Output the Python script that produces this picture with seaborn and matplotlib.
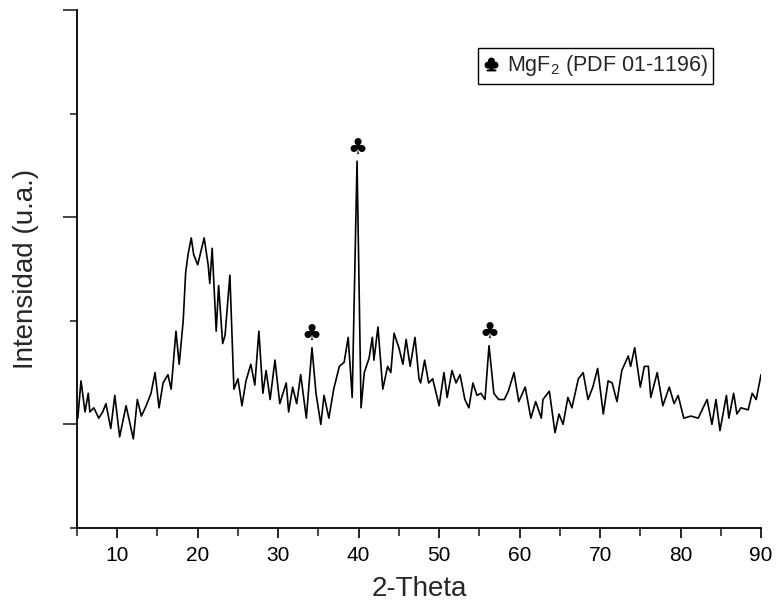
import matplotlib
matplotlib.use("Agg")
import matplotlib.pyplot as plt
from matplotlib.lines import Line2D
from matplotlib.ticker import MultipleLocator, NullFormatter
import seaborn as sns
import pandas as pd

# ---- data ----
two_theta = [5.1, 5.5, 6.0, 6.4, 6.6, 7.1, 7.7, 8.2, 8.6, 9.2, 9.7, 10.3, 11.1, 12.0,
             12.5, 13.0, 13.6, 14.2, 14.7, 15.2, 15.7, 16.3, 16.7, 17.3, 17.7, 18.2,
             18.5, 18.8, 19.2, 19.5, 20.0, 20.8, 21.3, 21.5, 21.8, 22.3, 22.6, 23.1,
             23.4, 24.0, 24.5, 25.0, 25.5, 26.0, 26.6, 27.1, 27.6, 28.1, 28.5, 29.0,
             29.6, 30.2, 31.0, 31.3, 31.8, 32.3, 32.8, 33.5, 34.2, 34.7, 35.3, 35.7,
             36.3, 36.9, 37.6, 38.2, 38.7, 39.2, 39.8, 40.3, 40.7, 41.3, 41.7, 41.9,
             42.4, 43.0, 43.6, 44.0, 44.4, 45.0, 45.5, 45.9, 46.4, 47.0, 47.5, 47.7,
             48.2, 48.7, 49.2, 50.0, 50.6, 51.0, 51.6, 52.1, 52.6, 53.2, 53.7, 54.2,
             54.7, 55.2, 55.7, 56.2, 56.8, 57.4, 58.1, 58.6, 59.3, 59.9, 60.7, 61.4,
             62.0, 62.7, 62.9, 63.7, 64.4, 64.9, 65.4, 66.0, 66.5, 67.3, 67.9, 68.5,
             69.1, 69.7, 70.4, 71.0, 71.5, 72.1, 72.7, 73.5, 73.8, 74.3, 75.0, 75.5,
             76.0, 76.3, 77.1, 77.8, 78.6, 79.2, 79.7, 80.4, 81.3, 82.2, 82.8, 83.3,
             83.9, 84.4, 84.9, 85.7, 86.0, 86.6, 87.0, 87.5, 88.4, 88.9, 89.4, 90.0]
intensity = [103, 121, 106, 115, 106, 108, 103, 106, 110, 98, 114, 94, 109, 93,
             112, 104, 109, 115, 125, 108, 120, 124, 117, 145, 129, 150,
             173, 182, 190, 182, 177, 190, 177, 168, 185, 145, 167, 139,
             143, 172, 117, 122, 109, 121, 129, 119, 145, 115, 126, 112,
             131, 110, 120, 106, 118, 110, 124, 103, 137, 115, 100, 114,
             103, 117, 128, 130, 142, 113, 227, 108, 125, 132, 142, 131,
             147, 117, 128, 125, 144, 137, 129, 141, 128, 142, 122, 120,
             131, 120, 122, 109, 125, 113, 126, 120, 124, 112, 108, 120,
             114, 115, 112, 138, 115, 112, 112, 116, 125, 111, 118, 103,
             111, 103, 112, 116, 96, 105, 100, 113, 108, 122, 125, 112,
             118, 127, 105, 121, 120, 111, 126, 133, 128, 137, 118, 128,
             128, 113, 125, 109, 118, 110, 114, 103, 104, 103, 108, 112,
             100, 112, 97, 114, 103, 115, 105, 108, 107, 115, 112, 124]

peak_theta = [34.2, 39.8, 56.2]
peak_intensity = [137, 227, 138]

x_ticks = [10, 20, 30, 40, 50, 60, 70, 80, 90]
x_label = "2-Theta"
y_label = "Intensidad (u.a.)"
legend_label = r"MgF$_\mathregular{2}$ (PDF 01-1196)"
marker_char = "\u2663"

df = pd.DataFrame({"two_theta": two_theta, "intensity": intensity})

# ---- style ----
sns.set_style("ticks")
plt.rcParams["font.family"] = ["Liberation Sans", "DejaVu Sans"]
plt.rcParams["mathtext.fontset"] = "custom"
plt.rcParams["mathtext.rm"] = "Liberation Sans"
plt.rcParams["mathtext.it"] = "Liberation Sans:italic"

fig = plt.figure(figsize=(7.76, 6.08), dpi=100)
ax = fig.add_axes([0.0992, 0.1316, 0.8815, 0.852])

sns.lineplot(data=df, x="two_theta", y="intensity", ax=ax, color="black",
             linewidth=1.2, estimator=None, sort=False)

for px, py in zip(peak_theta, peak_intensity):
    ax.annotate(marker_char, xy=(px, py), xytext=(0, 2), textcoords="offset points",
                ha="center", va="bottom", fontsize=16, color="black",
                family=["DejaVu Sans"])

ax.set_xlim(5, 90)
ax.set_ylim(50, 300)
ax.set_xticks(x_ticks)
ax.xaxis.set_minor_locator(MultipleLocator(5))
ax.yaxis.set_major_locator(MultipleLocator(100))
ax.yaxis.set_minor_locator(MultipleLocator(50))
ax.yaxis.set_major_formatter(NullFormatter())

ax.tick_params(axis="x", which="major", direction="out", length=7, width=1.2,
               labelsize=15, pad=6, colors="black")
ax.tick_params(axis="x", which="minor", direction="out", length=6, width=1.2)
ax.tick_params(axis="y", which="major", direction="out", length=10, width=1.2)
ax.tick_params(axis="y", which="minor", direction="out", length=5, width=1.2)

sns.despine(ax=ax)
for s in ["left", "bottom"]:
    ax.spines[s].set_linewidth(1.3)
    ax.spines[s].set_color("black")

ax.set_xlabel(x_label, fontsize=20, labelpad=8)
ax.set_ylabel(y_label, fontsize=20, labelpad=14)

handle = Line2D([], [], linestyle="none", marker=r"$\clubsuit$", color="black",
                markersize=9)
leg = ax.legend([handle], [legend_label], loc="upper left",
                bbox_to_anchor=(0.586, 0.927), borderaxespad=0, frameon=True,
                fancybox=False, edgecolor="black", framealpha=1,
                fontsize=15.5, handlelength=0.7, handletextpad=0.4, borderpad=0.25)
leg.get_frame().set_linewidth(1.0)

fig.savefig("out.png", dpi=100)
